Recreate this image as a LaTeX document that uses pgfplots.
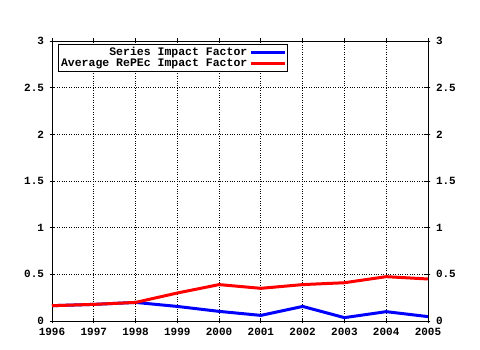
\documentclass[border=0pt]{standalone}
\usepackage{fontspec}
\setmainfont{Liberation Mono}
\usepackage{pgfplots}
\pgfplotsset{compat=1.18}
\begin{document}
\begin{tikzpicture}[x=1pt,y=1pt]
\fill[white] (0,0) rectangle (480,350);
\begin{axis}[
  at={(52pt,29pt)}, anchor=south west,
  scale only axis, width=376pt, height=280pt,
  xmin=1996, xmax=2005, ymin=0, ymax=3,
  xtick={1996,...,2005},
  minor x tick num=3,
  ytick={0,0.5,...,3},
  xticklabel={\pgfmathprintnumber[1000 sep=]{\tick}},
  /pgf/number format/assume math mode=true,
  /pgf/number format/1000 sep={},
  ticklabel style={font=\fontsize{11}{13}\selectfont\bfseries},
  xticklabel style={yshift=-1pt},
  yticklabel style={xshift=-2pt},
  grid=major,
  major grid style={black, dotted, line width=0.8pt},
  axis line style={black, line width=0.8pt},
  tick style={black, line width=0.8pt},
  major tick length=5pt, minor tick length=3pt,
  tick align=center,
  legend style={font=\fontsize{11.5}{12.5}\selectfont\bfseries, draw=black, line width=0.8pt,
    inner sep=1pt, row sep=-2pt, cells={anchor=east}, legend plot pos=right,
    at={(0.015,0.99)}, anchor=north west},
  legend image code/.code={\draw[#1, line width=3pt] (0pt,0pt) -- (34pt,0pt);},
]
\addplot[blue, line width=3pt] coordinates {
 (1996,0.164) (1997,0.178) (1998,0.199) (1999,0.156) (2000,0.103)
 (2001,0.06) (2002,0.156) (2003,0.036) (2004,0.100) (2005,0.047)};
\addlegendentry{Series Impact Factor}
\addplot[red, line width=3pt] coordinates {
 (1996,0.164) (1997,0.178) (1998,0.199) (1999,0.30) (2000,0.39)
 (2001,0.35) (2002,0.39) (2003,0.41) (2004,0.475) (2005,0.45)};
\addlegendentry{Average RePEc Impact Factor}
\end{axis}
\begin{axis}[
  at={(52pt,29pt)}, anchor=south west,
  scale only axis, width=376pt, height=280pt,
  xmin=1996, xmax=2005, ymin=0, ymax=3,
  ytick={0,0.5,...,3}, xtick=\empty,
  axis y line*=right, axis x line=none,
  /pgf/number format/assume math mode=true,
  ticklabel style={font=\fontsize{11}{13}\selectfont\bfseries},
  yticklabel style={xshift=2pt},
  axis line style={black, line width=0.8pt},
  tick style={black, line width=0.8pt},
  major tick length=5pt, tick align=center,
]
\end{axis}
\end{tikzpicture}
\end{document}
